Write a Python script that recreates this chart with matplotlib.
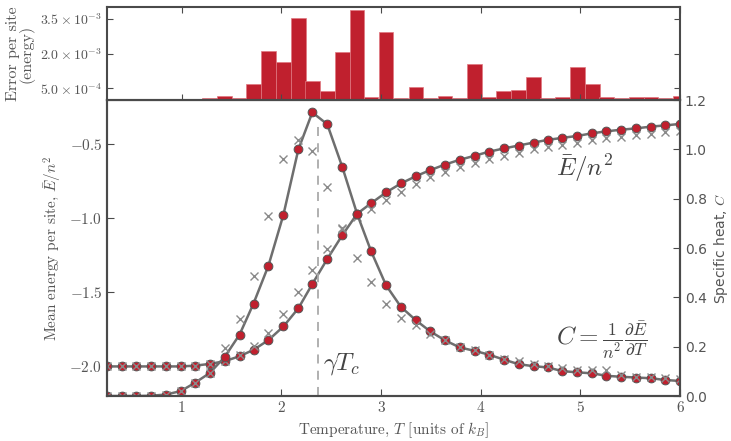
import matplotlib.pyplot as plt
import numpy as np

plt.rcParams['font.family'] = ['cmr10', 'DejaVu Serif']
plt.rcParams['mathtext.fontset'] = 'cm'
plt.rcParams['axes.unicode_minus'] = False

# temperatures of the simulation grid
T = [0.25, 0.40, 0.54, 0.69, 0.84, 0.99, 1.13, 1.28, 1.43, 1.58,
     1.72, 1.87, 2.02, 2.17, 2.31, 2.46, 2.61, 2.76, 2.90, 3.05,
     3.20, 3.35, 3.49, 3.64, 3.79, 3.94, 4.08, 4.23, 4.38, 4.53,
     4.67, 4.82, 4.97, 5.12, 5.26, 5.41, 5.56, 5.71, 5.85, 6.00]

# mean energy per site (circles = simulation, crosses = model)
E_sim = [-2.0, -2.0, -2.0, -2.0, -2.0, -2.0, -1.995, -1.983, -1.965, -1.931,
         -1.888, -1.822, -1.730, -1.607, -1.443, -1.274, -1.114, -0.968, -0.897, -0.824,
         -0.763, -0.714, -0.674, -0.636, -0.603, -0.576, -0.549, -0.527, -0.507, -0.487,
         -0.469, -0.455, -0.442, -0.424, -0.411, -0.400, -0.391, -0.379, -0.371, -0.361]
E_net = [-2.0, -2.0, -2.0, -2.0, -2.0, -2.0, -1.995, -1.983, -1.962, -1.925,
         -1.860, -1.775, -1.645, -1.498, -1.346, -1.205, -1.071, -0.990, -0.937, -0.872,
         -0.820, -0.765, -0.722, -0.688, -0.652, -0.625, -0.598, -0.575, -0.556, -0.533,
         -0.518, -0.502, -0.488, -0.472, -0.458, -0.447, -0.436, -0.426, -0.417, -0.408]

# specific heat
C_sim = [0.0, 0.0, 0.0, 0.001, 0.006, 0.020, 0.053, 0.093, 0.158, 0.249,
         0.375, 0.529, 0.735, 1.000, 1.150, 1.102, 0.930, 0.738, 0.587, 0.449,
         0.361, 0.307, 0.263, 0.226, 0.197, 0.183, 0.168, 0.148, 0.129, 0.121,
         0.116, 0.101, 0.096, 0.092, 0.082, 0.078, 0.075, 0.072, 0.065, 0.061]
C_net = [0.0, 0.0, 0.0, 0.001, 0.006, 0.020, 0.053, 0.093, 0.193, 0.314,
         0.487, 0.731, 0.960, 1.037, 0.992, 0.848, 0.680, 0.560, 0.464, 0.375,
         0.318, 0.287, 0.250, 0.226, 0.200, 0.185, 0.168, 0.152, 0.140, 0.130,
         0.120, 0.115, 0.105, 0.105, 0.105, 0.085, 0.078, 0.078, 0.075, 0.068]

# error per site (energy)
err = [0.0, 0.0, 0.0, 0.005e-3, 0.01e-3, 0.02e-3, 0.03e-3, 0.10e-3, 0.17e-3, 0.07e-3,
       0.67e-3, 2.11e-3, 1.64e-3, 3.54e-3, 0.81e-3, 0.40e-3, 2.07e-3, 3.86e-3, 0.14e-3, 2.93e-3,
       0.07e-3, 0.54e-3, 0.07e-3, 0.17e-3, 0.07e-3, 1.54e-3, 0.11e-3, 0.39e-3, 0.43e-3, 1.00e-3,
       0.07e-3, 0.14e-3, 1.43e-3, 0.67e-3, 0.14e-3, 0.07e-3, 0.14e-3, 0.11e-3, 0.07e-3, 0.17e-3]

gamma_Tc = 2.37

red = '#c0202e'
grey = '#6e6e6e'
dark = '#4a4a4a'
txt = '#555555'

fig = plt.figure(figsize=(7.31, 4.41), dpi=100)
ax = fig.add_axes([0.1464, 0.102, 0.7839, 0.671])
axh = fig.add_axes([0.1464, 0.7732, 0.7839, 0.2109], sharex=ax)
ax2 = ax.twinx()

# histogram of errors
axh.bar(T, err, width=0.147, color=red, edgecolor='#e07780', linewidth=0.5)
axh.set_ylim(0, 4e-3)
axh.set_yticks([5e-4, 2e-3, 3.5e-3])
axh.set_yticklabels([r'$5.0\times10^{-4}$', r'$2.0\times10^{-3}$', r'$3.5\times10^{-3}$'])
axh.tick_params(labelbottom=False, top=True, right=True, direction='in',
                colors=dark, labelcolor=txt, labelsize=10, length=4)
axh.set_ylabel('Error per site\n(energy)', color=txt, fontsize=11.5, linespacing=0.85)

# energy
ax.plot(T, E_sim, '-', color=grey, lw=1.8)
ax.plot(T, E_sim, 'o', mfc=red, mec='#555555', ms=6.3, mew=0.7)
ax.plot(T, E_net, 'x', color='#8a8a8a', ms=6, mew=1.0)

# specific heat
ax2.vlines(gamma_Tc, 0, 1.1, colors='#aaaaaa', linestyles=(0, (5, 4)), lw=1.3)
ax2.plot(T, C_sim, '-', color=grey, lw=1.8)
ax2.plot(T, C_sim, 'o', mfc=red, mec='#555555', ms=6.3, mew=0.7)
ax2.plot(T, C_net, 'x', color='#8a8a8a', ms=6, mew=1.0)

ax.set_xlim(0.25, 6.0)
ax.set_ylim(-2.2, -0.2)
ax2.set_ylim(0, 1.2)

ax.set_xticks([1, 2, 3, 4, 5, 6])
ax.set_xticklabels(['1', '2', '3', '4', '5', '6'])
ax.set_yticks([-2.0, -1.5, -1.0, -0.5])
ax.set_yticklabels([r'$-2.0$', r'$-1.5$', r'$-1.0$', r'$-0.5$'])
ax2.set_yticks([0, 0.2, 0.4, 0.6, 0.8, 1.0, 1.2])
ax2.set_yticklabels(['0.0', '0.2', '0.4', '0.6', '0.8', '1.0', '1.2'],
                    family='DejaVu Sans')

ax.tick_params(direction='in', colors=dark, labelcolor=txt, labelsize=11, length=5)
ax2.tick_params(direction='in', colors=dark, labelcolor=txt, labelsize=10, length=5)

ax.set_xlabel(r'Temperature, $T$ [units of $k_B$]', color=txt, fontsize=11)
ax.set_ylabel(r'Mean energy per site, $\bar{E}/n^2$', color=txt, fontsize=11)
ax2.set_ylabel(r'Specific heat, $C$', color=txt, fontsize=10, family='DejaVu Sans')

ax2.text(2.42, 0.13, r'$\gamma T_c$', fontsize=18, color='#444444', va='center')
ax2.text(4.76, 0.925, r'$\bar{E}/n^2$', fontsize=18, color='#444444', va='center')
ax2.text(4.76, 0.226, r'$C = \frac{1}{n^2}\frac{\partial\bar{E}}{\partial T}$',
         fontsize=18, color='#444444', va='center')

for a in (ax, ax2, axh):
    for s in a.spines.values():
        s.set_color(dark)
        s.set_linewidth(1.5)

fig.savefig('out.png', dpi=100)
